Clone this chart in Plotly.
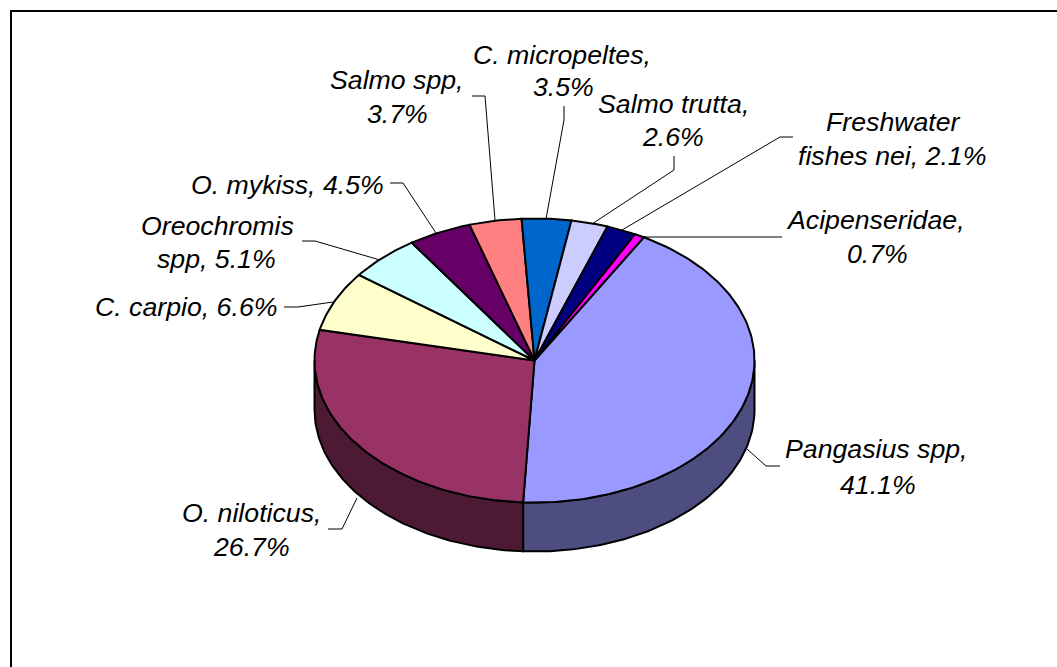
import math
import plotly.graph_objects as go

# ---- data ----
species = ["Pangasius spp", "O. niloticus", "C. carpio", "Oreochromis spp", "O. mykiss",
           "Salmo spp", "C. micropeltes", "Salmo trutta", "Freshwater fishes nei", "Acipenseridae"]
shares = [41.1, 26.7, 6.6, 5.1, 4.5, 3.7, 3.5, 2.6, 2.1, 0.7]
label_lines = [["Pangasius spp,", "41.1%"], ["O. niloticus,", "26.7%"], ["C. carpio, 6.6%"],
               ["Oreochromis", "spp, 5.1%"], ["O. mykiss, 4.5%"], ["Salmo spp,", "3.7%"],
               ["C. micropeltes,", "3.5%"], ["Salmo trutta,", "2.6%"],
               ["Freshwater", "fishes nei, 2.1%"], ["Acipenseridae,", "0.7%"]]

# ---- styles ----
top_colors = ["#9999FF", "#993366", "#FFFFCC", "#CCFFFF", "#660066",
              "#FF8080", "#0066CC", "#CCCCFF", "#000080", "#FF00FF"]
wall_colors = ["#4D4D80", "#4D1A33", "#808066", "#668080", "#330033",
               "#804040", "#003366", "#666680", "#000040", "#800080"]

# ---- layout (pixel space of the axes) ----
W, H = 1057, 667
CX, CY, RX, RY, DEPTH = 534.5, 360.5, 220, 142, 49
START_DEG = 29.8
FONT = dict(family="Liberation Sans, Arial, sans-serif", size=26.7, color="#000000")
label_pos = [[(876, 449), (878, 485)], [(251, 513), (251, 547)], [(186, 307)],
             [(217, 226), (216, 259)], [(287, 185)], [(397, 80), (397, 114)],
             [(562, 55), (563, 87)], [(673, 104), (673, 137)],
             [(893, 122), (892, 156)], [(875, 220), (877, 254)]]
leaders = [[(747, 449), (766, 466), (780, 466)], [(357, 498), (342, 529), (328, 529)],
           [(333, 302), (298, 307), (284, 307)], [(380, 260), (315, 241), (302, 241)],
           [(436, 233), (403, 183), (390, 183)], [(495, 220), (485, 96), (472, 96)],
           [(546, 219), (564, 120), (564, 106)], [(592, 224), (674, 170), (674, 156)],
           [(622, 230), (780, 137), (793, 137)], [(643, 237), (767, 237), (782, 237)]]


def rim(deg, dy=0.0):
    t = math.radians(deg)
    return CX + RX * math.sin(t), CY - RY * math.cos(t) + dy


def arc(a, b, dy=0.0):
    n = max(2, int(abs(b - a)) + 2)
    return [rim(a + (b - a) * i / (n - 1), dy) for i in range(n)]


total = sum(shares)
bounds = [START_DEG]
for v in shares:
    bounds.append(bounds[-1] + v / total * 360)

fig = go.Figure()


def poly(points, fill):
    xs = [p[0] for p in points] + [points[0][0]]
    ys = [p[1] for p in points] + [points[0][1]]
    fig.add_trace(go.Scatter(x=xs, y=ys, mode="lines", fill="toself", fillcolor=fill,
                             line=dict(color="#000000", width=2), hoverinfo="skip",
                             showlegend=False))


# outer walls: only the front half of the rim is visible
for i in range(len(shares)):
    a, b = max(bounds[i], 90), min(bounds[i + 1], 270)
    if b > a:
        poly(arc(a, b) + arc(b, a, DEPTH), wall_colors[i])

# top faces
for i in range(len(shares)):
    poly([(CX, CY)] + arc(bounds[i], bounds[i + 1]), top_colors[i])

# leader lines
for pts in leaders:
    fig.add_trace(go.Scatter(x=[p[0] for p in pts], y=[p[1] for p in pts], mode="lines",
                             line=dict(color="#000000", width=1), hoverinfo="skip",
                             showlegend=False))

annotations = []
for lines, places in zip(label_lines, label_pos):
    for text, (x, y) in zip(lines, places):
        annotations.append(dict(x=x, y=y, xref="x", yref="y", text=f"<i>{text}</i>",
                                showarrow=False, xanchor="center", yanchor="middle",
                                font=FONT))

shapes = [
    dict(type="line", xref="x", yref="y", x0=11, x1=W, y0=11, y1=11,
         line=dict(color="#000000", width=2)),
    dict(type="line", xref="x", yref="y", x0=11, x1=11, y0=10, y1=H,
         line=dict(color="#000000", width=2)),
]

fig.update_layout(
    width=W, height=H, margin=dict(l=0, r=0, t=0, b=0),
    paper_bgcolor="#FFFFFF", plot_bgcolor="#FFFFFF",
    xaxis=dict(range=[0, W], visible=False, fixedrange=True),
    yaxis=dict(range=[H, 0], visible=False, fixedrange=True),
    annotations=annotations, shapes=shapes, showlegend=False,
)
fig.write_html("out.html", config={"displayModeBar": False},
               post_script="document.body.style.margin='0';")
